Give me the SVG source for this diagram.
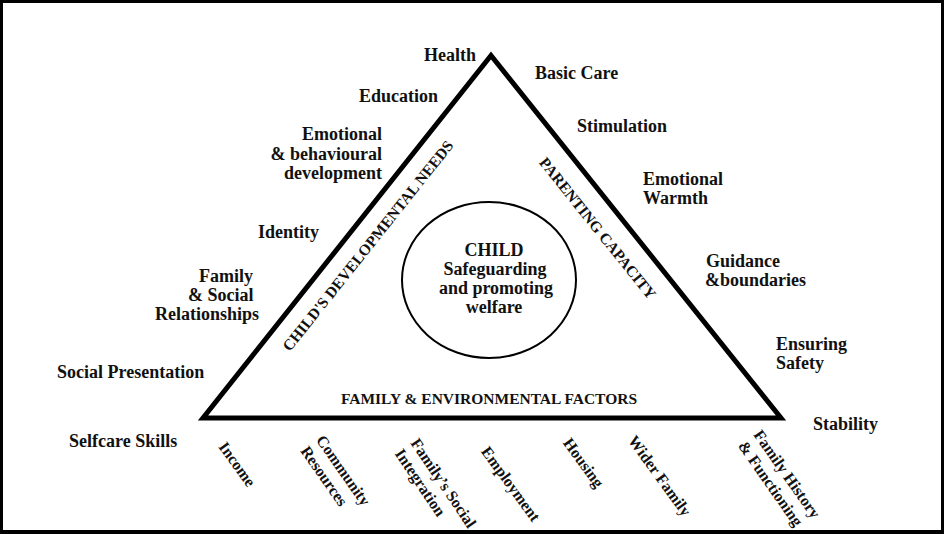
<svg xmlns="http://www.w3.org/2000/svg" width="944" height="534" viewBox="0 0 944 534">
<style>
text{font-family:"Liberation Serif","Times New Roman",serif;font-weight:bold;fill:#111;}
.side{font-size:18px;}
.bot{font-size:16px;}
.edge{font-size:15.5px;}
.mid{font-size:18px;text-anchor:middle;}
</style>
<rect x="0" y="0" width="944" height="534" fill="#000"/>
<rect x="3" y="3" width="938" height="527" fill="#fff"/>
<g id="connectors"></g>
<g id="triangle">
<polygon points="491,55.5 203,418 781,418" fill="none" stroke="#000" stroke-width="5" stroke-linejoin="miter" stroke-miterlimit="10"/>
<text class="edge" transform="translate(372,249) rotate(-51.5)" text-anchor="middle">CHILD'S DEVELOPMENTAL NEEDS</text>
<text class="edge" transform="translate(593.6,231.5) rotate(51.3)" text-anchor="middle">PARENTING CAPACITY</text>
<text class="edge" x="489" y="404" text-anchor="middle" font-size="15.3">FAMILY &amp; ENVIRONMENTAL FACTORS</text>
</g>
<g id="child">
<ellipse cx="489" cy="280" rx="87" ry="78" fill="none" stroke="#000" stroke-width="2"/>
<text class="mid" x="494" y="256">CHILD</text>
<text class="mid" x="495" y="275">Safeguarding</text>
<text class="mid" x="496" y="294">and promoting</text>
<text class="mid" x="494" y="313">welfare</text>
</g>
<g id="needs">
<text class="side" x="476" y="61" text-anchor="end">Health</text>
<text class="side" x="359" y="102">Education</text>
<text class="side" x="382" y="140" text-anchor="end">Emotional</text>
<text class="side" x="382" y="159.5" text-anchor="end">&amp; behavioural</text>
<text class="side" x="382" y="179" text-anchor="end">development</text>
<text class="side" x="258" y="238">Identity</text>
<text class="side" x="199" y="282">Family</text>
<text class="side" x="188" y="301">&amp; Social</text>
<text class="side" x="155" y="320">Relationships</text>
<text class="side" x="57" y="378">Social Presentation</text>
<text class="side" x="69" y="447">Selfcare Skills</text>
</g>
<g id="parenting">
<text class="side" x="535" y="79">Basic Care</text>
<text class="side" x="577" y="132">Stimulation</text>
<text class="side" x="643" y="185">Emotional</text>
<text class="side" x="643" y="204">Warmth</text>
<text class="side" x="706" y="267">Guidance</text>
<text class="side" x="705" y="286">&amp;boundaries</text>
<text class="side" x="776" y="349.5">Ensuring</text>
<text class="side" x="776" y="368.5">Safety</text>
<text class="side" x="813" y="430">Stability</text>
</g>
<g id="factors">
<text class="bot" transform="translate(218,447) rotate(54)">Income</text>
<g transform="translate(315.5,440) rotate(55)"><text class="bot" x="0" y="0">Community</text><text class="bot" x="0" y="19">Resources</text></g>
<g transform="translate(410,443) rotate(56)"><text class="bot" x="0" y="0">Family’s Social</text><text class="bot" x="0" y="19">Integration</text></g>
<text class="bot" transform="translate(480.6,451.6) rotate(54)">Employment</text>
<text class="bot" transform="translate(562.5,443) rotate(54)">Housing</text>
<text class="bot" transform="translate(627.5,440.6) rotate(54)">Wider Family</text>
<g transform="translate(753,434.8) rotate(55)"><text class="bot" x="0" y="0">Family History</text><text class="bot" x="0" y="19">&amp; Functioning</text></g>
</g>
</svg>
